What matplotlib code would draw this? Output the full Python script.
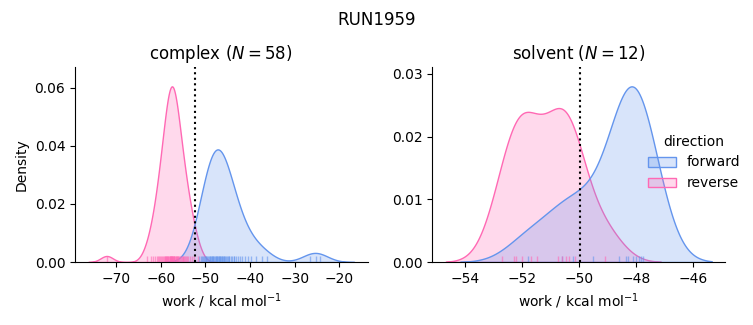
import matplotlib
matplotlib.use("Agg")
import matplotlib.pyplot as plt
from matplotlib.ticker import MultipleLocator
import pandas as pd
import seaborn as sns

run_name = "RUN1959"

# work values (kcal/mol)
complex_forward = [
    -51.48, -51.03, -50.7, -50.36, -50.14, -49.8, -49.58, -49.35, -49.13, -48.9,
    -48.68, -48.46, -48.23, -48.01, -47.78, -47.56, -47.34, -47.11, -46.89, -46.66,
    -46.44, -46.22, -45.99, -45.77, -45.54, -45.32, -44.98, -44.65, -44.31, -43.98,
    -43.64, -43.19, -42.74, -42.3, -41.74, -41.18, -40.5, -39.72, -38.71, -37.37,
    -36.2, -48.34, -47.67, -47.0, -46.33, -49.91, -44.76, -49.02, -46.78, -47.45,
    -50.58, -45.21, -43.53, -45.88, -48.57, -26.6, -25.3, -24.3,
]
complex_reverse = [
    -72.1, -63.12, -62.2, -61.63, -61.17, -60.82, -60.36, -60.13, -59.79, -59.56,
    -59.33, -59.1, -58.98, -58.75, -58.64, -58.41, -58.29, -58.18, -57.95, -57.83,
    -57.72, -57.6, -57.49, -57.37, -57.26, -57.14, -57.03, -56.91, -56.8, -56.68,
    -56.45, -56.34, -56.11, -55.99, -55.76, -55.53, -55.3, -55.07, -54.73, -54.5,
    -54.15, -53.8, -53.46, -53.0, -52.43, -51.74, -58.52, -58.0, -57.43, -56.97,
    -56.57, -59.9, -54.96, -58.87, -56.22, -60.59, -54.38, -57.72,
]
solvent_forward = [
    -51.77, -50.6, -50.2, -49.5, -48.6, -48.37,
    -48.28, -48.1, -48.0, -47.84, -47.75, -47.9,
]
solvent_reverse = [
    -52.7, -52.27, -52.2, -52.0, -51.69, -51.46,
    -50.73, -50.6, -50.44, -50.35, -50.15, -49.1,
]

# free energy estimates (dotted lines)
complex_estimate = -52.25
solvent_estimate = -49.97

phases = ["complex", "solvent"]
works = {
    "complex": (complex_forward, complex_reverse),
    "solvent": (solvent_forward, solvent_reverse),
}
estimates = {"complex": complex_estimate, "solvent": solvent_estimate}
ytick_step = {"complex": 0.02, "solvent": 0.01}

rows = []
for phase in phases:
    fwd, rev = works[phase]
    rows += [dict(phase=phase, direction="forward", work=w) for w in fwd]
    rows += [dict(phase=phase, direction="reverse", work=w) for w in rev]
df = pd.DataFrame(rows)

g = sns.displot(
    df, x="work", hue="direction", col="phase", kind="kde", fill=True,
    rug=True, rug_kws=dict(height=0.03, alpha=0.6),
    palette={"forward": "cornflowerblue", "reverse": "hotpink"},
    facet_kws=dict(sharex=False, sharey=False),
)

fig = g.figure
fig.set_size_inches(7.53, 3.25)
fig.subplots_adjust(left=75 / 753, right=725 / 753, bottom=1 - 262 / 325,
                    top=1 - 67 / 325, wspace=0.222)

for ax, phase in zip(g.axes.flat, phases):
    n = len(works[phase][0])
    ax.axvline(estimates[phase], color="k", ls=":", lw=1.5)
    ax.yaxis.set_major_locator(MultipleLocator(ytick_step[phase]))
    ax.set_title(f"{phase} ($N = {n}$)")
    ax.set_xlabel("work / kcal mol$^{-1}$")

fig.suptitle(run_name, y=0.965, fontsize=12)
fig.savefig("out.png", dpi=100)
